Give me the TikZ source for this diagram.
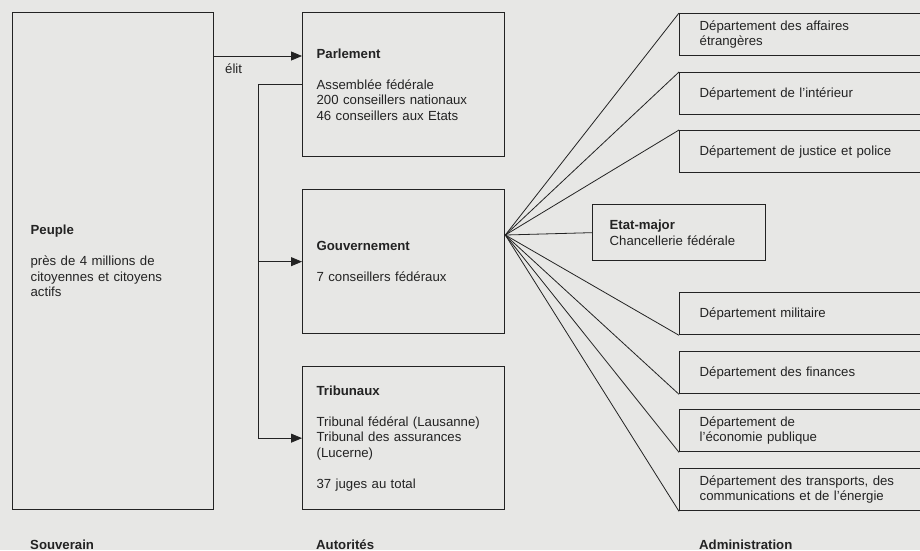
\documentclass[tikz,border=0pt]{standalone}
\usepackage{fontspec}
\setmainfont{Liberation Sans}
\usepackage{xcolor}
\usepackage{tikz}
\usetikzlibrary{arrows.meta}
\usetikzlibrary{positioning}
\definecolor{paper}{RGB}{231,231,229}
\definecolor{ink}{RGB}{35,35,35}
\tikzset{
    tnode/.style = {align=left, inner ysep=0pt, text=ink, font=\fontsize{13.2}{15.5}\selectfont},
    box_node/.style = {tnode, rectangle, draw=ink, line width=1.3pt, anchor=north west},
    big_box/.style = {box_node, minimum width=202pt, inner xsep=14pt, text width=174pt},
    dept_node/.style = {box_node, minimum height=42pt, inner xsep=20pt, text width=210pt},
    col_label/.style = {tnode, anchor=base west, inner xsep=0pt, font=\fontsize{13.2}{15.5}\selectfont\bfseries},
    link/.style = {draw=ink, line width=0.8pt}
}

\begin{document}
\begin{tikzpicture}
            [x=1pt, y=-1pt,
            >={Triangle[length=11pt,width=9pt]}]

            \useasboundingbox (0,0) rectangle (920,550);
            \fill[paper] (0,0) rectangle (920,550);

            % souverain
            \node [box_node, minimum width=201pt, minimum height=497pt, inner xsep=18pt, text width=165pt]
                (peuple) at (12,12)
                {\textbf{Peuple}\\[15.5pt]près de 4 millions de\\citoyennes et citoyens\\actifs};

            % autorites
            \node [big_box, minimum height=144pt] (parlement) at (302,12)
                {\textbf{Parlement}\\[15.5pt]Assemblée fédérale\\200 conseillers nationaux\\46 conseillers aux Etats};
            \node [big_box, minimum height=144pt] (gouvernement) at (302,189)
                {\textbf{Gouvernement}\\[15.5pt]7 conseillers fédéraux};
            \node [big_box, minimum height=143pt] (tribunaux) at (302,366)
                {\textbf{Tribunaux}\\[15.5pt]Tribunal fédéral (Lausanne)\\Tribunal des assurances\\(Lucerne)\\[15.5pt]37 juges au total};

            % administration
            \node [box_node, minimum width=173pt, minimum height=56pt, inner xsep=17pt, text width=139pt]
                (etatmajor) at (592,204)
                {\textbf{Etat-major}\\Chancellerie fédérale};
            \node [dept_node] (affaires) at (679,13) {Département des affaires\\étrangères};
            \node [dept_node] (interieur) at (679,72) {Département de l'intérieur};
            \node [dept_node] (justice) at (679,130) {Département de justice et police};
            \node [dept_node] (militaire) at (679,292) {Département militaire};
            \node [dept_node] (finances) at (679,351) {Département des finances};
            \node [dept_node] (economie) at (679,409) {Département de\\l'économie publique};
            \node [dept_node] (transports) at (679,468) {Département des transports, des\\communications et de l'énergie};

            % column titles
            \node [col_label] (souverain) at (30,549) {Souverain};
            \node [col_label] (autorites) at (316,549) {Autorités};
            \node [col_label] (administration) at (699,549) {Administration};

            % elit
            \coordinate (elit_y) at (0,56);
            \draw [link, ->] (peuple.east |- elit_y) -- (parlement.west |- elit_y);
            \node [tnode, anchor=west, inner xsep=0pt] (elit) at (225,69) {élit};

            \draw [link, ->] (parlement.west) -- ++(-44,0) |- (gouvernement.west);
            \draw [link, ->] (parlement.west) -- ++(-44,0) |- (tribunaux.west);

            % fan
            \coordinate (hub) at (gouvernement.east |- 0,235);
            \foreach \d in {affaires, interieur, justice}
                \draw [link] (hub) -- (\d.north west);
            \draw [link] (hub) -- (etatmajor.west);
            \foreach \d in {militaire, finances, economie, transports}
                \draw [link] (hub) -- (\d.south west);
\end{tikzpicture}
\end{document}
